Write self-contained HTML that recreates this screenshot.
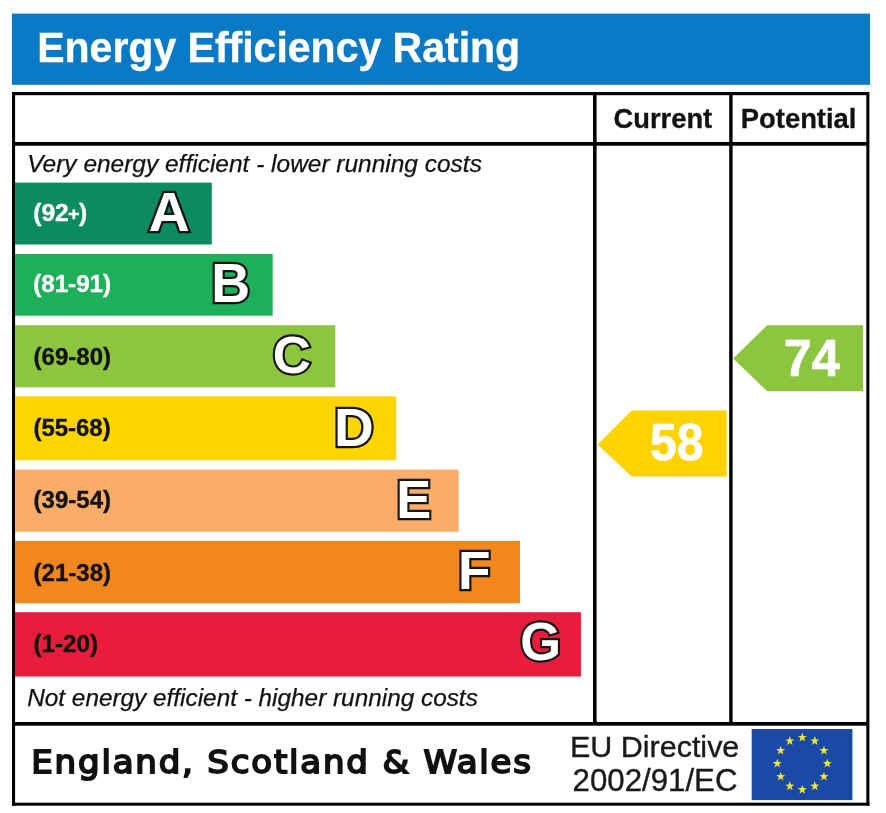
<!DOCTYPE html>
<html lang="en">
<head>
<meta charset="utf-8">
<title>Energy Efficiency Rating</title>
<style>
html,body{margin:0;padding:0;background:#fff;}
body{width:886px;height:813px;overflow:hidden;}
svg{display:block;}
.b{font-family:"Liberation Sans",Arial,sans-serif;font-weight:bold;}
.i{font-family:"Liberation Sans",Arial,sans-serif;font-style:italic;}
.r{font-family:"Liberation Sans",Arial,sans-serif;}
.l{font-family:"Liberation Sans",Arial,sans-serif;font-weight:bold;stroke:#151515;stroke-width:4.4px;paint-order:stroke fill;stroke-linejoin:miter;stroke-miterlimit:3;}
.f2{font-family:"DejaVu Sans","Liberation Sans",sans-serif;}
</style>
</head>
<body>
<svg width="886" height="813" viewBox="0 0 886 813">
<rect x="0" y="0" width="886" height="813" fill="#ffffff"/>
<rect x="12" y="13.6" width="858" height="71.2" fill="#0a7ac6"/>
<text class="b" transform="translate(37.2,62) scale(1,1.035)" font-size="41" fill="#ffffff" stroke="#fff" stroke-width="0.4">Energy Efficiency Rating</text>
<rect x="12" y="92" width="857" height="3.2" fill="#000"/>
<rect x="12" y="802.7" width="857.4" height="3.0" fill="#000"/>
<rect x="12" y="92" width="3.1" height="713.7" fill="#000"/>
<rect x="866.3" y="92" width="3.1" height="713.7" fill="#000"/>
<rect x="12" y="142" width="857" height="3.7" fill="#000"/>
<rect x="12" y="722" width="857" height="3.7" fill="#000"/>
<rect x="593" y="92" width="3.6" height="632" fill="#000"/>
<rect x="729.2" y="92" width="3.4" height="632" fill="#000"/>
<text class="b" transform="translate(613.6,128) scale(1,1.04)" font-size="27.3" fill="#111" stroke="#111" stroke-width="0.3">Current</text>
<text class="b" transform="translate(740.8,128) scale(1,1.04)" font-size="27.4" fill="#111" stroke="#111" stroke-width="0.3">Potential</text>
<text class="i" transform="translate(27.2,171.6) scale(1,1)" font-size="24.47" fill="#111" stroke="#111" stroke-width="0.25">Very energy efficient - lower running costs</text>
<text class="i" transform="translate(27.2,705.8) scale(1,1)" font-size="24.35" fill="#111" stroke="#111" stroke-width="0.25">Not energy efficient - higher running costs</text>
<rect x="15" y="182.6" width="196.8" height="61.9" fill="#0b8c5e"/>
<rect x="15" y="254" width="257.7" height="61.7" fill="#1daf5a"/>
<rect x="15" y="325.2" width="320.3" height="62.2" fill="#8cc63f"/>
<rect x="15" y="396.3" width="381.2" height="63.9" fill="#ffd500"/>
<rect x="15" y="469.6" width="443.6" height="62.2" fill="#faad68"/>
<rect x="15" y="540.9" width="505" height="62.3" fill="#f2871f"/>
<rect x="15" y="612.2" width="565.9" height="64.3" fill="#ea1c3c"/>
<text class="b" transform="translate(33.2,221) scale(1.08,1.03)" font-size="22.8" fill="#fff" stroke="#fff" stroke-width="0.35">(92<tspan font-size="18.5" dx="-0.6" dy="-1.2">+</tspan><tspan dy="1.2" dx="-0.8">)</tspan></text>
<text class="l" transform="translate(148.5,230.5) scale(1.08,1.05)" font-size="53" fill="#fff">A</text>
<text class="b" transform="translate(33.2,292.1) scale(1.06,1.03)" font-size="22.8" fill="#fff" stroke="#fff" stroke-width="0.35">(81-91)</text>
<text class="l" transform="translate(211.3,302) scale(1.015,1.035)" font-size="53" fill="#fff">B</text>
<text class="b" transform="translate(33.5,364.5) scale(1.055,1.03)" font-size="22.8" fill="#111" stroke="#111" stroke-width="0.35">(69-80)</text>
<text class="l" transform="translate(272.7,373.1) scale(0.995,0.99)" font-size="53" fill="#fff">C</text>
<text class="b" transform="translate(33.5,436.1) scale(1.05,1.03)" font-size="22.8" fill="#111" stroke="#111" stroke-width="0.35">(55-68)</text>
<text class="l" transform="translate(334,445.7) scale(1.04,0.995)" font-size="53" fill="#fff">D</text>
<text class="b" transform="translate(33.5,507.6) scale(1.055,1.03)" font-size="22.8" fill="#111" stroke="#111" stroke-width="0.35">(39-54)</text>
<text class="l" transform="translate(396.3,517.8) scale(0.99,1.025)" font-size="53" fill="#fff">E</text>
<text class="b" transform="translate(33.5,580.6) scale(1.055,1.03)" font-size="22.8" fill="#111" stroke="#111" stroke-width="0.35">(21-38)</text>
<text class="l" transform="translate(458.1,588.8) scale(1.005,1.025)" font-size="53" fill="#fff">F</text>
<text class="b" transform="translate(33.5,651.7) scale(1.06,1.03)" font-size="22.8" fill="#111" stroke="#111" stroke-width="0.35">(1-20)</text>
<text class="l" transform="translate(520.3,660.4) scale(0.99,1)" font-size="53" fill="#fff">G</text>
<polygon points="597.6,444.5 631.6,410.6 726.7,410.6 726.7,476.4 631.6,476.4" fill="#ffd200"/>
<text class="b" transform="translate(650,460.2) scale(0.955,1.03)" font-size="50.3" fill="#fff" stroke="#fff" stroke-width="0.7">58</text>
<polygon points="733.2,358.4 767.2,325.2 863,325.2 863,391.3 767.2,391.3" fill="#8cc63f"/>
<text class="b" transform="translate(783.8,375.6) scale(1,1.04)" font-size="50.3" fill="#fff" stroke="#fff" stroke-width="0.7">74</text>
<text class="f2" transform="translate(31.3,773.2) scale(1.08,1.04)" font-size="31.5" fill="#111" stroke="#111" stroke-width="1.8" stroke-linejoin="miter" letter-spacing="1.69">England, Scotland &amp; Wales</text>
<text class="r" transform="translate(570,756.8) scale(1.03,1)" font-size="29.6" fill="#1a1a1a" stroke="#1a1a1a" stroke-width="0.35">EU Directive</text>
<text class="r" transform="translate(572.5,791.3) scale(1.056,1.07)" font-size="29.6" fill="#1a1a1a" stroke="#1a1a1a" stroke-width="0.35">2002/91/EC</text>
<rect x="751.7" y="729" width="100.7" height="71.1" fill="#1a4aa5"/>
<polygon points="802.30,732.61 803.41,735.92 806.77,735.99 804.09,738.10 805.06,741.45 802.30,739.46 799.54,741.45 800.51,738.10 797.83,735.99 801.19,735.92" fill="#f6e52d"/>
<polygon points="814.80,736.11 815.91,739.41 819.27,739.49 816.59,741.60 817.56,744.95 814.80,742.95 812.04,744.95 813.01,741.60 810.33,739.49 813.69,739.41" fill="#f6e52d"/>
<polygon points="823.95,745.66 825.06,748.97 828.42,749.04 825.74,751.15 826.71,754.50 823.95,752.51 821.19,754.50 822.16,751.15 819.48,749.04 822.85,748.97" fill="#f6e52d"/>
<polygon points="827.30,758.71 828.41,762.02 831.77,762.09 829.09,764.20 830.06,767.55 827.30,765.56 824.54,767.55 825.51,764.20 822.83,762.09 826.19,762.02" fill="#f6e52d"/>
<polygon points="823.95,771.76 825.06,775.07 828.42,775.14 825.74,777.25 826.71,780.60 823.95,778.61 821.19,780.60 822.16,777.25 819.48,775.14 822.85,775.07" fill="#f6e52d"/>
<polygon points="814.80,781.32 815.91,784.62 819.27,784.69 816.59,786.81 817.56,790.16 814.80,788.16 812.04,790.16 813.01,786.81 810.33,784.69 813.69,784.62" fill="#f6e52d"/>
<polygon points="802.30,784.81 803.41,788.12 806.77,788.19 804.09,790.30 805.06,793.65 802.30,791.66 799.54,793.65 800.51,790.30 797.83,788.19 801.19,788.12" fill="#f6e52d"/>
<polygon points="789.80,781.32 790.91,784.62 794.27,784.69 791.59,786.81 792.56,790.16 789.80,788.16 787.04,790.16 788.01,786.81 785.33,784.69 788.69,784.62" fill="#f6e52d"/>
<polygon points="780.65,771.76 781.75,775.07 785.12,775.14 782.44,777.25 783.41,780.60 780.65,778.61 777.89,780.60 778.86,777.25 776.18,775.14 779.54,775.07" fill="#f6e52d"/>
<polygon points="777.30,758.71 778.41,762.02 781.77,762.09 779.09,764.20 780.06,767.55 777.30,765.56 774.54,767.55 775.51,764.20 772.83,762.09 776.19,762.02" fill="#f6e52d"/>
<polygon points="780.65,745.66 781.75,748.97 785.12,749.04 782.44,751.15 783.41,754.50 780.65,752.51 777.89,754.50 778.86,751.15 776.18,749.04 779.54,748.97" fill="#f6e52d"/>
<polygon points="789.80,736.11 790.91,739.41 794.27,739.49 791.59,741.60 792.56,744.95 789.80,742.95 787.04,744.95 788.01,741.60 785.33,739.49 788.69,739.41" fill="#f6e52d"/>
</svg>
</body>
</html>
